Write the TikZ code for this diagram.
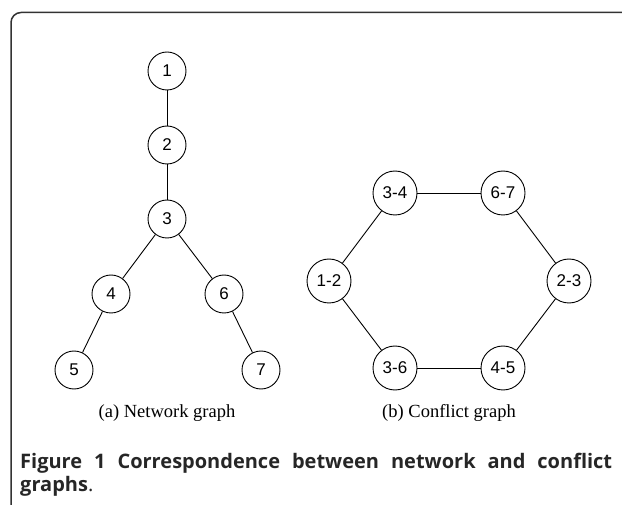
\documentclass[tikz,border=0pt]{standalone}
\usepackage[svgnames,table]{xcolor}
\usepackage{fontspec}
\setmainfont{Liberation Serif}
\newfontfamily\nodefont{Liberation Sans}
\newfontfamily\capfont{Open Sans}
\usepackage{tikz}
\usetikzlibrary{shapes,arrows}

\begin{document}
\begin{tikzpicture}[x=1pt,y=-1pt,node distance=74pt,
    vtx/.style={circle,draw,line width=0.9pt,minimum size=38pt,inner sep=0pt,font=\nodefont\fontsize{17}{17}\selectfont},
    cvtx/.style={vtx,minimum size=44pt},
    sub/.style={font=\fontsize{18.5}{20}\selectfont},
    fig/.style={anchor=base west,inner sep=0pt,text=black!85,font=\capfont\fontsize{20}{22}\selectfont}]
    \useasboundingbox (0,0) rectangle (622,505);
    % frame
    \draw[line width=1.5pt,black!80,rounded corners=10pt] (622,12.5) -- (11,12.5) -- (11,505);
    % network graph
    \node[vtx] (n1) at (167,71) {1};
    \node[vtx] (n2) [below of=n1] {2};
    \node[vtx] (n3) [below of=n2] {3};
    \node[vtx] (n4) at (111,294) {4};
    \node[vtx] (n6) at (224,294) {6};
    \node[vtx] (n5) at (74,370) {5};
    \node[vtx] (n7) at (261,370) {7};
    \path[draw,line width=0.9pt]
    (n1) edge (n2)
    (n2) edge (n3)
    (n3) edge (n4)
    (n3) edge (n6)
    (n4) edge (n5)
    (n6) edge (n7)
;
    % conflict graph
    \node[cvtx] (c34) at (395,193) {3-4};
    \node[cvtx] (c67) at (503,193) {6-7};
    \node[cvtx] (c12) at (329,281) {1-2};
    \node[cvtx] (c23) at (569,281) {2-3};
    \node[cvtx] (c36) at (395,368) {3-6};
    \node[cvtx] (c45) at (503,368) {4-5};
    \path[draw,line width=0.9pt]
    (c34) edge (c67)
    (c67) edge (c23)
    (c23) edge (c45)
    (c45) edge (c36)
    (c36) edge (c12)
    (c12) edge (c34)
;
    % captions
    \node[sub] (capa) at (167,413) {(a) Network graph};
    \node[sub] (capb) at (449,413) {(b) Conflict graph};
    \node[fig] (fig1) at (20,468)
      {\makebox[592pt][s]{\bfseries Figure 1 Correspondence between network and conflict}};
    \node[fig] (fig2) at (20,491) {\textbf{graphs}.};
  \end{tikzpicture}
\end{document}
